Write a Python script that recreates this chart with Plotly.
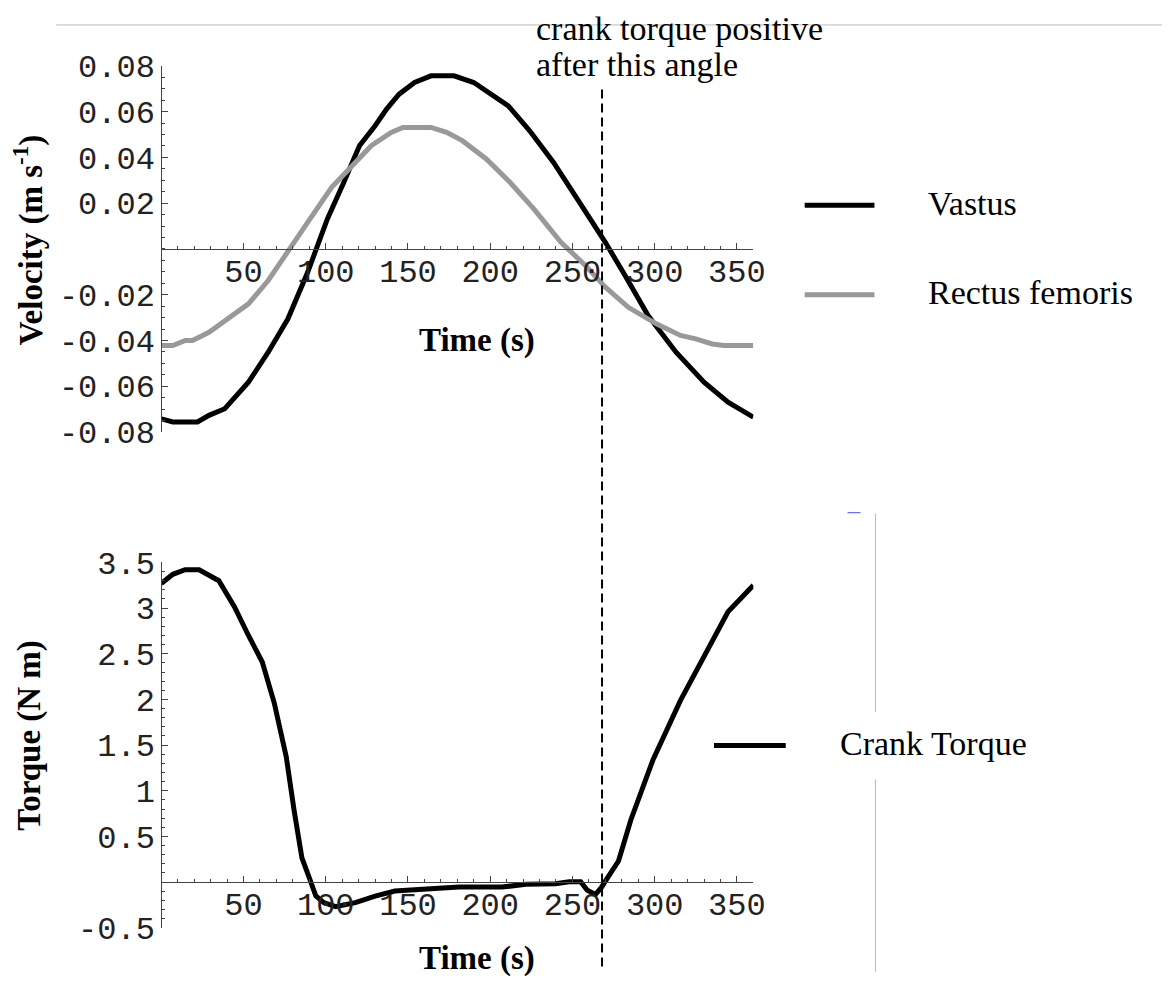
import plotly.graph_objects as go

# ---------------- data ----------------
vastus_t = [0, 7, 22, 29, 38.6, 53, 65, 77, 89, 94, 101, 111, 120.5, 130, 137, 144.6, 154, 164, 178,
            190, 200, 211, 224, 238.5, 253, 270, 282, 296, 313, 330, 344.6, 360]
vastus_v = [-0.0742, -0.0756, -0.0756, -0.0727, -0.0698, -0.0582, -0.0451, -0.0305, -0.0102, 0.0, 0.0131,
            0.0291, 0.0451, 0.0538, 0.0611, 0.0676, 0.0727, 0.0756, 0.0756, 0.0727, 0.0676, 0.0625,
            0.0516, 0.0378, 0.0218, 0.0029, -0.0116, -0.0291, -0.0451, -0.0582, -0.0669, -0.0735]

rectus_t = [0, 7, 14.5, 19, 29, 41, 53, 65, 77, 89, 103.6, 115.7, 127.7, 139.8, 147, 164, 173.5, 183,
            197.6, 212, 226.5, 243, 258, 270, 284, 301, 315.7, 325, 335, 342, 360]
rectus_v = [-0.0422, -0.0422, -0.0400, -0.0400, -0.0364, -0.0305, -0.0240, -0.0138, -0.0015, 0.0116,
            0.0269, 0.0364, 0.0451, 0.0509, 0.0531, 0.0531, 0.0509, 0.0473, 0.0393, 0.0291, 0.0175,
            0.0029, -0.0073, -0.0167, -0.0255, -0.0327, -0.0378, -0.0393, -0.0415, -0.0422, -0.0422]

torque_t = [0, 7, 14.5, 23, 35, 44.6, 53, 61.4, 68.7, 76, 80.7, 85.5, 90, 94, 98.8, 106, 118, 130, 142,
            153, 166, 181, 207, 221.7, 239.8, 248, 255, 259, 264, 267.5, 272, 278, 285.5, 299, 315.7,
            330, 344.6, 360]
torque_v = [3.27, 3.37, 3.42, 3.42, 3.30, 3.01, 2.70, 2.41, 1.96, 1.37, 0.79, 0.265, 0.047, -0.153, -0.225,
            -0.27, -0.225, -0.153, -0.098, -0.087, -0.069, -0.055, -0.055, -0.025, -0.018, 0.004, 0.004,
            -0.09, -0.135, -0.062, 0.065, 0.23, 0.68, 1.34, 1.99, 2.48, 2.96, 3.25]

crank_angle = 268

x_ticks = [50, 100, 150, 200, 250, 300, 350]
vel_ticks = [0.08, 0.06, 0.04, 0.02, -0.02, -0.04, -0.06, -0.08]
vel_ticktext = ["0.08", "0.06", "0.04", "0.02", "-0.02", "-0.04", "-0.06", "-0.08"]
tor_ticks = [3.5, 3, 2.5, 2, 1.5, 1, 0.5, -0.5]
tor_ticktext = ["3.5", "3", "2.5", "2", "1.5", "1", "0.5", "-0.5"]

# ---------------- layout helpers ----------------
W, H = 1170, 985
# map target screen pixels to paper coords (compensating page offset in the capture)
def px(x):
    return ((x - 8.7) / 0.993) / W
def py(y):
    v = 1 - ((y - 21) / 0.967) / H
    return min(v, 1.0)

xdom = [px(162.5), px(756.5)]
y1dom = [py(431), py(63)]
y2dom = [py(929), py(562)]
vel_range = [-0.08, 0.08]
tor_range = [-0.5, 3.5]
x1pos = y1dom[0] + (0 - vel_range[0]) / (vel_range[1] - vel_range[0]) * (y1dom[1] - y1dom[0])
x2pos = y2dom[0] + (0 - tor_range[0]) / (tor_range[1] - tor_range[0]) * (y2dom[1] - y2dom[0])

MONO = "Liberation Mono"
SERIF = "Liberation Serif"
AXC = "#444444"

fig = go.Figure()
fig.add_trace(go.Scatter(x=vastus_t, y=vastus_v, mode="lines", line=dict(color="black", width=5),
                         xaxis="x", yaxis="y", showlegend=False))
fig.add_trace(go.Scatter(x=rectus_t, y=rectus_v, mode="lines", line=dict(color="#999999", width=5),
                         xaxis="x", yaxis="y", showlegend=False))
fig.add_trace(go.Scatter(x=torque_t, y=torque_v, mode="lines", line=dict(color="black", width=5),
                         xaxis="x2", yaxis="y2", showlegend=False))

def xaxis_cfg(pos):
    return dict(domain=xdom, range=[0, 360], anchor="free", position=pos, showline=True,
                linecolor=AXC, linewidth=1, showgrid=False, zeroline=False,
                tickmode="array", tickvals=x_ticks, ticks="inside", ticklen=6, tickcolor=AXC,
                ticklabelstandoff=-6,
                minor=dict(dtick=10, ticks="inside", ticklen=3, tickcolor=AXC, showgrid=False),
                tickfont=dict(family=MONO, size=32, color="#222"))

def yaxis_cfg(dom, rng, vals, text, mdt):
    return dict(domain=dom, range=rng, anchor="free", position=xdom[0], showline=True,
                linecolor=AXC, linewidth=1, showgrid=False, zeroline=False,
                tickmode="array", tickvals=vals, ticktext=text, ticks="inside", ticklen=6,
                tickcolor=AXC,
                minor=dict(dtick=mdt, ticks="inside", ticklen=3, tickcolor=AXC, showgrid=False),
                tickfont=dict(family=MONO, size=32, color="#222"))

fig.update_layout(
    width=W, height=H, margin=dict(l=0, r=0, t=0, b=0),
    paper_bgcolor="white", plot_bgcolor="white", showlegend=False,
    xaxis=xaxis_cfg(x1pos),
    xaxis2=xaxis_cfg(x2pos),
    yaxis=yaxis_cfg(y1dom, vel_range, vel_ticks, vel_ticktext, 0.005),
    yaxis2=yaxis_cfg(y2dom, tor_range, tor_ticks, tor_ticktext, 0.1),
)

shapes = []
# dashed vertical line at crank angle
shapes.append(dict(type="line", xref="x", yref="paper", x0=crank_angle, x1=crank_angle,
                   y0=py(968), y1=py(85), line=dict(color="black", width=2, dash="9px,5px")))
# legend keys
shapes.append(dict(type="line", xref="paper", yref="paper", x0=px(808), x1=px(878), y0=py(203), y1=py(203),
                   line=dict(color="black", width=5)))
shapes.append(dict(type="line", xref="paper", yref="paper", x0=px(808), x1=px(878), y0=py(293), y1=py(293),
                   line=dict(color="#999999", width=5)))
shapes.append(dict(type="line", xref="paper", yref="paper", x0=px(717), x1=px(789), y0=py(746), y1=py(746),
                   line=dict(color="black", width=5)))
# page artefacts
shapes.append(dict(type="line", xref="paper", yref="paper", x0=px(57), x1=1, y0=0.999, y1=0.999,
                   line=dict(color="#bbbbbb", width=1)))
shapes.append(dict(type="line", xref="paper", yref="paper", x0=px(879), x1=px(879), y0=py(513), y1=py(712),
                   line=dict(color="#bbbbbb", width=1)))
shapes.append(dict(type="line", xref="paper", yref="paper", x0=px(879), x1=px(879), y0=py(780), y1=0,
                   line=dict(color="#bbbbbb", width=1)))
shapes.append(dict(type="line", xref="paper", yref="paper", x0=px(851), x1=px(864), y0=py(512), y1=py(512),
                   line=dict(color="#4455ff", width=1)))
fig.update_layout(shapes=shapes)

def ann(text, x, y, size=34, bold=False, angle=0, xanchor="left"):
    t = f"<b>{text}</b>" if bold else text
    return dict(text=t, x=px(x), y=py(y), xref="paper", yref="paper", showarrow=False,
                xanchor=xanchor, yanchor="middle", textangle=angle,
                font=dict(family=SERIF, size=size, color="black"))

annotations = [
    ann("crank torque positive", 536, 26),
    ann("after this angle", 536, 62),
    ann("Vastus", 930, 201),
    ann("Rectus femoris", 930, 291),
    ann("Crank Torque", 841, 744),
    ann("Velocity (m s<sup>-1</sup>)", 30, 238, size=33, bold=True, angle=-90, xanchor="center"),
    ann("Time (s)", 479, 339, size=33, bold=True, xanchor="center"),
    ann("Torque (N m)", 30, 736, size=33, bold=True, angle=-90, xanchor="center"),
    ann("Time (s)", 479, 960, size=33, bold=True, xanchor="center"),
]
fig.update_layout(annotations=annotations)

fig.write_html("out.html")
